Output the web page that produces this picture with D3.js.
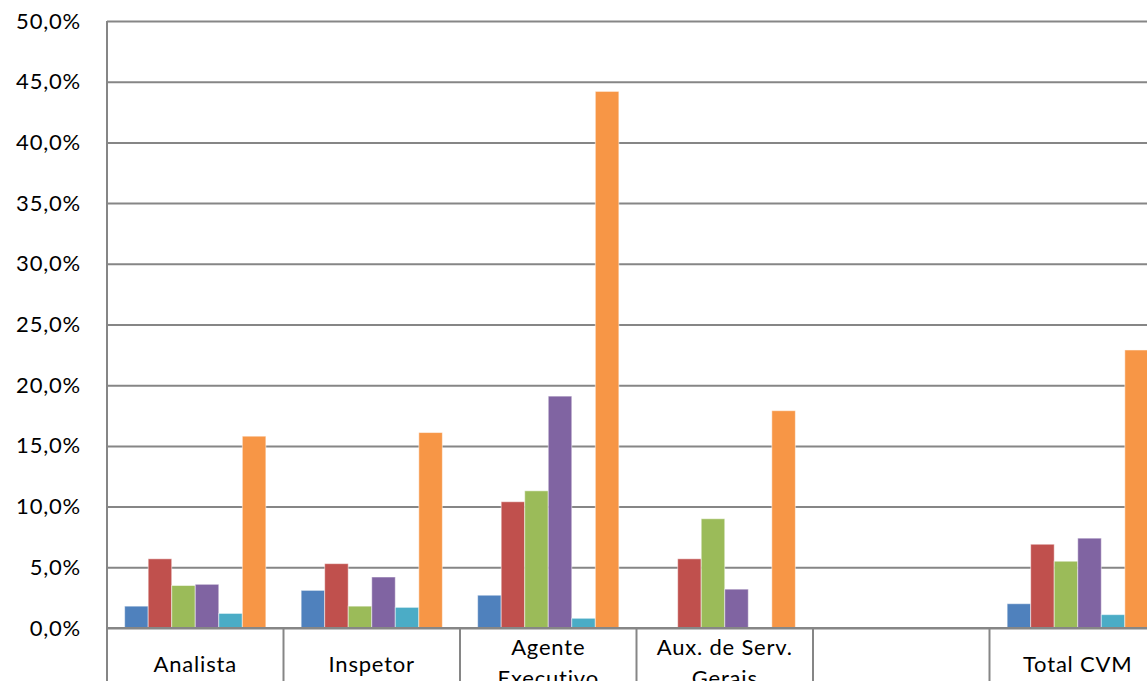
<!DOCTYPE html>
<html>
<head>
<meta charset="utf-8">
<script src="https://cdn.jsdelivr.net/npm/d3@7"></script>
<style>
  body { margin: 0; background: #fff; overflow: hidden; }
  text { font-family: Lato, "Open Sans", sans-serif; fill: #000; letter-spacing: 0.8px; }
</style>
</head>
<body>
<div id="chart"></div>
<script>
var svgWidth = 1147;
var svgHeight = 681;

// categories (one empty slot before the total, as in the original sheet)
var categories = ["Analista", "Inspetor", "Agente Executivo", "Aux. de Serv. Gerais", "", "Total CVM"];
var series = ["s1", "s2", "s3", "s4", "s5", "s6"];
var colors = ["#4F81BD", "#C0504D", "#9BBB59", "#8064A2", "#4BACC6", "#F79646"];

// values in %, one array per series (null = no bar)
var s1 = [1.8, 3.1, 2.7, null, null, 2.0];
var s2 = [5.7, 5.3, 10.4, 5.7, null, 6.9];
var s3 = [3.5, 1.8, 11.3, 9.0, null, 5.5];
var s4 = [3.6, 4.2, 19.1, 3.2, null, 7.4];
var s5 = [1.2, 1.7, 0.8, null, null, 1.1];
var s6 = [15.8, 16.1, 44.2, 17.9, null, 22.9];
var values = [s1, s2, s3, s4, s5, s6];

var yTicks = [0, 5, 10, 15, 20, 25, 30, 35, 40, 45, 50];

var margin = { top: 21, left: 107 };
var height = 628 - margin.top;
var step = 176.5;
var width = step * categories.length;

var svg = d3.select("#chart")
    .append("svg")
    .attr("width", svgWidth)
    .attr("height", svgHeight);

var chartGroup = svg.append("g")
    .attr("transform", `translate(${margin.left}, ${margin.top})`);

var x0 = d3.scaleBand()
    .domain(d3.range(categories.length))
    .range([0, width])
    .paddingInner(0.2)
    .paddingOuter(0.1);

var x1 = d3.scaleBand()
    .domain(series)
    .range([0, x0.bandwidth()]);

var y = d3.scaleLinear()
    .domain([0, 50])
    .range([height, 0]);

var ptBR = d3.formatLocale({ decimal: ",", thousands: ".", grouping: [3], currency: ["R$", ""] });
var fmt = ptBR.format(".1f");

// gridlines + y labels
var leftAxis = d3.axisLeft(y)
    .tickValues(yTicks)
    .tickSize(-width)
    .tickPadding(26)
    .tickFormat(d => fmt(d) + "%");

var yAxis = chartGroup.append("g").call(leftAxis);
yAxis.select(".domain").remove();
yAxis.selectAll("line").attr("stroke", "#868686").attr("stroke-width", 2);
yAxis.selectAll("text")
    .style("font-size", "22px")
    .style("font-family", "Lato, 'Open Sans', sans-serif")
    .style("letter-spacing", "0.8px");

// bars
var groups = chartGroup.selectAll("g.cat")
    .data(categories)
    .enter()
    .append("g")
    .attr("class", "cat")
    .attr("transform", (d, i) => `translate(${x0(i)}, 0)`);

groups.selectAll("rect")
    .data((d, i) => series.map((s, j) => ({ s: s, j: j, v: values[j][i] })).filter(e => e.v != null))
    .enter()
    .append("rect")
    .attr("x", d => x1(d.s))
    .attr("width", x1.bandwidth())
    .attr("y", d => y(d.v))
    .attr("height", d => height - y(d.v))
    .attr("fill", d => colors[d.j])
    .attr("stroke", "rgba(255,255,255,0.5)")
    .attr("stroke-width", 1);

// left axis line
chartGroup.append("line")
    .attr("x1", 0).attr("x2", 0)
    .attr("y1", 0).attr("y2", height + 60)
    .attr("stroke", "#868686").attr("stroke-width", 2);

// baseline
chartGroup.append("line")
    .attr("x1", 0).attr("x2", width)
    .attr("y1", y(0)).attr("y2", y(0))
    .attr("stroke", "#868686").attr("stroke-width", 2);

// category separators below the axis
chartGroup.selectAll("line.sep")
    .data(d3.range(1, categories.length))
    .enter()
    .append("line")
    .attr("class", "sep")
    .attr("x1", d => d * x0.step()).attr("x2", d => d * x0.step())
    .attr("y1", height).attr("y2", height + 60)
    .attr("stroke", "#868686").attr("stroke-width", 2);

// category labels, wrapped like Excel
var labelLines = {
    "Agente Executivo": ["Agente", "Executivo"],
    "Aux. de Serv. Gerais": ["Aux. de Serv.", "Gerais"]
};

categories.forEach(function (c, i) {
    var lines = labelLines[c] || [c];
    var cx = x0(i) + x0.bandwidth() / 2;
    var t = chartGroup.append("text")
        .attr("x", cx)
        .attr("text-anchor", "middle")
        .style("font-size", "22px");
    lines.forEach(function (l, k) {
        var baseY = lines.length > 1 ? height + 27 + k * 31 : height + 44;
        t.append("tspan").attr("x", cx).attr("y", baseY).text(l);
    });
});
</script>
</body>
</html>
